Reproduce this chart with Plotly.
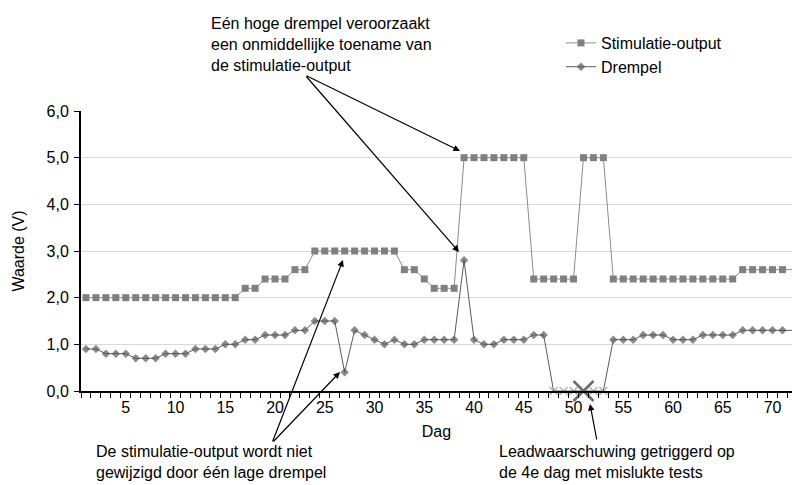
import plotly.graph_objects as go

# ---------------- data ----------------
days = list(range(1, 73))

stimulatie_output = [2.0, 2.0, 2.0, 2.0, 2.0, 2.0, 2.0, 2.0, 2.0, 2.0,
                     2.0, 2.0, 2.0, 2.0, 2.0, 2.0, 2.2, 2.2, 2.4, 2.4,
                     2.4, 2.6, 2.6, 3.0, 3.0, 3.0, 3.0, 3.0, 3.0, 3.0,
                     3.0, 3.0, 2.6, 2.6, 2.4, 2.2, 2.2, 2.2, 5.0, 5.0,
                     5.0, 5.0, 5.0, 5.0, 5.0, 2.4, 2.4, 2.4, 2.4, 2.4,
                     5.0, 5.0, 5.0, 2.4, 2.4, 2.4, 2.4, 2.4, 2.4, 2.4,
                     2.4, 2.4, 2.4, 2.4, 2.4, 2.4, 2.6, 2.6, 2.6, 2.6,
                     2.6, 2.6]

drempel = [0.9, 0.9, 0.8, 0.8, 0.8, 0.7, 0.7, 0.7, 0.8, 0.8,
           0.8, 0.9, 0.9, 0.9, 1.0, 1.0, 1.1, 1.1, 1.2, 1.2,
           1.2, 1.3, 1.3, 1.5, 1.5, 1.5, 0.4, 1.3, 1.2, 1.1,
           1.0, 1.1, 1.0, 1.0, 1.1, 1.1, 1.1, 1.1, 2.8, 1.1,
           1.0, 1.0, 1.1, 1.1, 1.1, 1.2, 1.2, 0.0, 0.0, 0.0,
           0.0, 0.0, 0.0, 1.1, 1.1, 1.1, 1.2, 1.2, 1.2, 1.1,
           1.1, 1.1, 1.2, 1.2, 1.2, 1.2, 1.3, 1.3, 1.3, 1.3,
           1.3, 1.3]

failed_test_days = [48, 49, 50, 51, 52, 53]
lead_alert_day = [51]
lead_alert_value = [0.0]

x_tick_values = [5, 10, 15, 20, 25, 30, 35, 40, 45, 50, 55, 60, 65, 70]
x_tick_labels = [str(v) for v in x_tick_values]
y_tick_values = [0, 1, 2, 3, 4, 5, 6]

# ---------------- layout geometry ----------------
ML, MR, MT, MB = 81, 0, 111, 94
FIG_W, FIG_H = 792, 485
PW, PH = FIG_W - ML - MR, FIG_H - MT - MB
DAY_PX = 9.95
x_range = [0.5, 0.5 + PW / DAY_PX]


def px(xp):
    return (xp - ML) / PW


def py(yp):
    return (FIG_H - MB - yp) / PH


FONT = "Liberation Sans, Arial, sans-serif"

# per-point marker styling for Drempel
d_symbols = ["x-thin" if d in failed_test_days else "diamond" for d in days]
d_sizes = [8 if d in failed_test_days else 6.5 for d in days]
d_line_w = [1.2 if d in failed_test_days else 0 for d in days]
d_line_c = ["#8a8a8a" if d in failed_test_days else "#595959" for d in days]

fig = go.Figure()

fig.add_trace(go.Scatter(
    x=days, y=stimulatie_output, name="Stimulatie-output",
    mode="lines+markers",
    line=dict(color="#8c8c8c", width=1),
    marker=dict(symbol="square", size=7, color="#808080"),
))

fig.add_trace(go.Scatter(
    x=days, y=drempel, name="Drempel",
    mode="lines+markers",
    line=dict(color="#5a5a5a", width=1),
    marker=dict(symbol=d_symbols, size=d_sizes, color="#595959",
                line=dict(width=d_line_w, color=d_line_c)),
    cliponaxis=False,
))

fig.add_trace(go.Scatter(
    x=lead_alert_day, y=lead_alert_value, mode="markers", showlegend=False,
    marker=dict(symbol="x-thin", size=20, color="#6b6b6b",
                line=dict(width=2.5, color="#6b6b6b")),
    cliponaxis=False,
))

annotations = []


def arrow(tip, tail):
    annotations.append(dict(
        xref="paper", yref="paper", x=px(tip[0]), y=py(tip[1]),
        axref="pixel", ayref="pixel", ax=tail[0] - tip[0], ay=tail[1] - tip[1],
        text="", showarrow=True, arrowhead=2, arrowsize=1.1, arrowwidth=1.2,
        arrowcolor="black", standoff=0, startstandoff=0,
    ))


def label(text, left, top):
    annotations.append(dict(
        xref="paper", yref="paper", x=px(left), y=py(top),
        xanchor="left", yanchor="top", align="left", showarrow=False,
        text=text, font=dict(family=FONT, size=16, color="black"),
    ))


label("Eén hoge drempel veroorzaakt<br>een onmiddellijke toename van<br>de stimulatie-output", 209, 13)
arrow((460, 151), (305, 75))
arrow((459, 252), (305, 75))

label("De stimulatie-output wordt niet<br>gewijzigd door één lage drempel", 94, 441)
arrow((343, 260), (272, 443))
arrow((340, 372), (272, 443))

label("Leadwaarschuwing getriggerd op<br>de 4e dag met mislukte tests", 497, 441)
arrow((590, 404), (597, 441))

fig.update_layout(
    width=FIG_W, height=FIG_H,
    margin=dict(l=ML, r=MR, t=MT, b=MB, autoexpand=False),
    paper_bgcolor="white", plot_bgcolor="white",
    font=dict(family=FONT, size=16, color="black"),
    separators=",.",
    showlegend=True,
    legend=dict(x=px(561), y=py(26), xanchor="left", yanchor="top",
                bgcolor="rgba(0,0,0,0)", font=dict(size=16),
                itemwidth=30, tracegroupgap=0),
    annotations=annotations,
)

fig.update_xaxes(
    range=x_range, showgrid=False, zeroline=False,
    tickmode="array", tickvals=x_tick_values, ticktext=x_tick_labels,
    ticks="outside", ticklen=5, tickcolor="rgba(0,0,0,0)",
    minor=dict(ticks="outside", ticklen=5, tickwidth=1, tickcolor="black",
               tickmode="linear", tick0=0.5, dtick=1, showgrid=False),
    showline=True, linecolor="black", linewidth=2,
    tickfont=dict(size=16), ticklabelstandoff=-4,
    title=dict(text="Dag", font=dict(size=16), standoff=11),
)

fig.update_yaxes(
    range=[0, 6], tickmode="array", tickvals=y_tick_values,
    tickformat=".1f", showgrid=True, gridcolor="#d9d9d9", gridwidth=1,
    zeroline=False, ticks="outside", ticklen=5, tickcolor="black",
    showline=True, linecolor="black", linewidth=2,
    tickfont=dict(size=16), ticklabelstandoff=2,
    title=dict(text="Waarde (V)", font=dict(size=16), standoff=18),
)

fig.write_html(
    "out.html",
    config={"displayModeBar": False},
    post_script="document.body.style.margin='0';document.body.style.padding='0';",
)
